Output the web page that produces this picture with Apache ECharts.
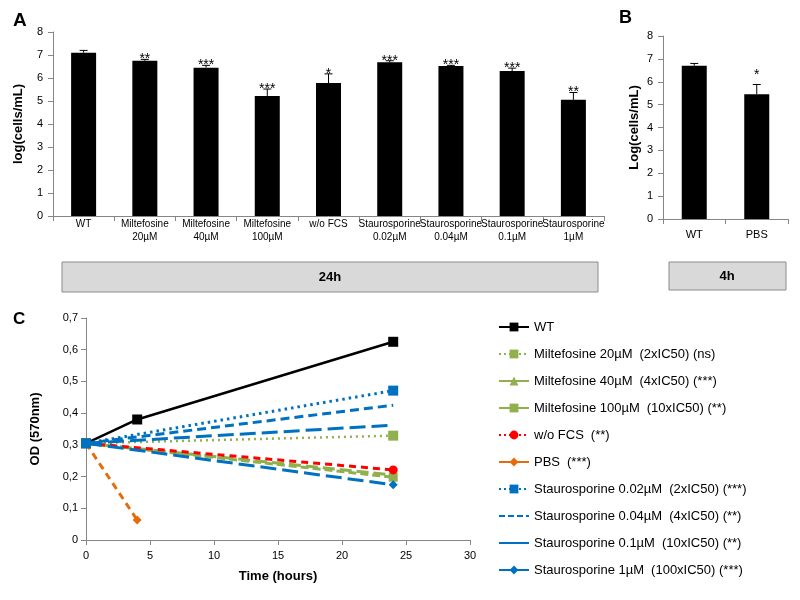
<!DOCTYPE html>
<html><head><meta charset="utf-8">
<script src="https://cdn.jsdelivr.net/npm/echarts/dist/echarts.min.js"></script>
<style>html,body{margin:0;padding:0;background:#fff}#c{width:800px;height:600px}</style>
</head><body><div id="c"></div><script>
// ---- Panel A data ----
const catsA = ['WT','Miltefosine\n20µM','Miltefosine\n40µM','Miltefosine\n100µM','w/o FCS','Staurosporine\n0.02µM','Staurosporine\n0.04µM','Staurosporine\n0.1µM','Staurosporine\n1µM'];
const valsA = [7.1, 6.75, 6.45, 5.22, 5.78, 6.68, 6.52, 6.3, 5.05];
const errA  = [0.1, 0.06, 0.1, 0.3, 0.4, 0.07, 0.03, 0.13, 0.32];
const sigA  = ['', '**', '***', '***', '*', '***', '***', '***', '**'];
// ---- Panel B data ----
const catsB = ['WT','PBS'];
const valsB = [6.7, 5.45];
const errB  = [0.1, 0.43];
const sigB  = ['', '*'];
// ---- Panel C data (time in hours, OD 570nm) ----
const cWT       = [[0,0.305],[4,0.38],[24,0.625]];
const cMilt20   = [[0,0.305],[24,0.329]];
const cMilt40   = [[0,0.305],[24,0.205]];
const cMilt100  = [[0,0.305],[24,0.198]];
const cWoFCS    = [[0,0.305],[24,0.221]];
const cPBS      = [[0,0.305],[4,0.063]];
const cSt002    = [[0,0.305],[24,0.471]];
const cSt004    = [[0,0.305],[24,0.425]];
const cSt01     = [[0,0.305],[24,0.362]];
const cSt1      = [[0,0.305],[24,0.174]];
const namesC  = ['WT','Miltefosine 20µM','Miltefosine 40µM','Miltefosine 100µM','w/o FCS','PBS','Staurosporine 0.02µM','Staurosporine 0.04µM','Staurosporine 0.1µM','Staurosporine 1µM'];
const suffixC = ['', '(2xIC50) (ns)', '(4xIC50) (***)', '(10xIC50) (**)', '(**)', '(***)', '(2xIC50) (***)', '(4xIC50) (**)', '(10xIC50) (**)', '(100xIC50) (***)'];

const SANS = '"Liberation Sans", Arial, sans-serif';
const AX = '#868686';

function errRender(sigs, starOffset) {
  return function (params, api) {
    const i = params.dataIndex;
    const v = api.value(1), e = api.value(2);
    const p0 = api.coord([api.value(0), v]);
    const p1 = api.coord([api.value(0), v + e]);
    const ch = [
      {type:'line', shape:{x1:p0[0], y1:p0[1], x2:p1[0], y2:p1[1]}, style:{stroke:'#000', lineWidth:1}},
      {type:'line', shape:{x1:p1[0]-4, y1:p1[1], x2:p1[0]+4, y2:p1[1]}, style:{stroke:'#000', lineWidth:1}}
    ];
    if (sigs[i]) ch.push({type:'text', style:{text:sigs[i], x:p1[0], y:p1[1]+starOffset, align:'center', verticalAlign:'top', fontSize:14, fontFamily:SANS, fill:'#000'}});
    return {type:'group', children:ch};
  };
}

function valAxisBar(gi, name, gap) {
  return {type:'value', gridIndex:gi, min:0, max:8, interval:1, name:name, nameLocation:'middle', nameGap:gap,
    nameTextStyle:{fontFamily:SANS, fontWeight:'bold', fontSize:13, color:'#000'},
    axisLine:{show:true, lineStyle:{color:AX}}, axisTick:{show:true, length:5, lineStyle:{color:AX}},
    axisLabel:{fontFamily:SANS, fontSize:11, color:'#000', margin:10}, splitLine:{show:false}};
}

const lineDefs = [
  {data:cWT, color:'#000000', type:'solid', width:2.5, symbol:'rect', size:10},
  {data:cMilt20, color:'#8fb04d', type:[2,4], width:2.5, symbol:'rect', size:10},
  {data:cMilt40, color:'#8fb04d', type:[12,5], width:3, symbol:'triangle', size:8},
  {data:cMilt100, color:'#8fb04d', type:[8,4], width:3, symbol:'rect', size:9},
  {data:cWoFCS, color:'#ff0000', type:[7,5], width:3, symbol:'circle', size:9},
  {data:cPBS, color:'#e46c0a', type:[7,5], width:3, symbol:'diamond', size:9},
  {data:cSt002, color:'#0070c0', type:[2.5,4], width:3, symbol:'rect', size:10},
  {data:cSt004, color:'#0070c0', type:[9,5], width:3, symbol:'none', size:0},
  {data:cSt01, color:'#0070c0', type:[16,6], width:3, symbol:'none', size:0},
  {data:cSt1, color:'#0070c0', type:[16,6], width:3, symbol:'diamond', size:9}
];
const legendLineType = ['solid', [2,3], 'solid', 'solid', [2,3], 'solid', [2,3], [6,3], 'solid', 'solid'];

const seriesC = lineDefs.map((d, i) => ({
  type:'line', name:namesC[i], xAxisIndex:2, yAxisIndex:2, data:d.data,
  symbol:d.symbol, symbolSize:d.size, showSymbol:d.symbol !== 'none',
  lineStyle:{color:d.color, width:d.width, type:d.type}, itemStyle:{color:d.color},
  animation:false, z:2+i
}));

const option = {
  animation:false,
  grid:[
    {left:53, top:32, width:551, height:184},
    {left:663, top:36, width:125, height:183},
    {left:86, top:318, width:384, height:222}
  ],
  xAxis:[
    {type:'category', gridIndex:0, data:catsA, axisLine:{lineStyle:{color:AX}},
      axisTick:{show:true, length:5, alignWithLabel:false, lineStyle:{color:AX}},
      axisLabel:{interval:0, fontFamily:SANS, fontSize:10, color:'#000', lineHeight:13, margin:2}},
    {type:'category', gridIndex:1, data:catsB, axisLine:{lineStyle:{color:AX}},
      axisTick:{show:true, length:5, lineStyle:{color:AX}},
      axisLabel:{interval:0, fontFamily:SANS, fontSize:11, color:'#000', margin:10}},
    {type:'value', gridIndex:2, min:0, max:30, interval:5, name:'Time (hours)', nameLocation:'middle', nameGap:30,
      nameTextStyle:{fontFamily:SANS, fontWeight:'bold', fontSize:13, color:'#000'},
      axisLine:{show:true, lineStyle:{color:AX}}, axisTick:{show:true, length:5, lineStyle:{color:AX}},
      axisLabel:{fontFamily:SANS, fontSize:11, color:'#000', margin:10}, splitLine:{show:false}}
  ],
  yAxis:[
    valAxisBar(0, 'log(cells/mL)', 28),
    valAxisBar(1, 'Log(cells/mL)', 22),
    {type:'value', gridIndex:2, min:0, max:0.7, interval:0.1, name:'OD (570nm)', nameLocation:'middle', nameGap:44,
      nameTextStyle:{fontFamily:SANS, fontWeight:'bold', fontSize:13, color:'#000'},
      axisLine:{show:true, lineStyle:{color:AX}}, axisTick:{show:true, length:5, lineStyle:{color:AX}},
      axisLabel:{fontFamily:SANS, fontSize:11, color:'#000', margin:8,
        formatter:v => v === 0 ? '0' : v.toFixed(1).replace('.', ',')}, splitLine:{show:false}}
  ],
  legend:{
    orient:'vertical', left:493, top:315, itemWidth:30, itemHeight:11, itemGap:13,
    data:namesC.map((n, i) => {
      const item = {name:n, lineStyle:{type:legendLineType[i]}};
      if (lineDefs[i].symbol === 'none') item.itemStyle = {opacity:0};
      return item;
    }),
    formatter:name => { const s = suffixC[namesC.indexOf(name)]; return '{a|' + name + '}' + (s ? '{b|' + s + '}' : ''); },
    textStyle:{fontFamily:SANS, fontSize:13, color:'#000', lineHeight:14,
      rich:{a:{fontFamily:SANS, fontSize:13, color:'#000', lineHeight:14}, b:{fontFamily:SANS, fontSize:13, color:'#000', lineHeight:14, padding:[0,0,0,7]}}}
  },
  series:[
    {type:'bar', xAxisIndex:0, yAxisIndex:0, data:valsA, barWidth:25, itemStyle:{color:'#000'}},
    {type:'custom', xAxisIndex:0, yAxisIndex:0, data:valsA.map((v, i) => [i, v, errA[i]]),
      encode:{x:0, y:1}, renderItem:errRender(sigA, -7), z:3},
    {type:'bar', xAxisIndex:1, yAxisIndex:1, data:valsB, barWidth:25, itemStyle:{color:'#000'}},
    {type:'custom', xAxisIndex:1, yAxisIndex:1, data:valsB.map((v, i) => [i, v, errB[i]]),
      encode:{x:0, y:1}, renderItem:errRender(sigB, -16), z:3}
  ].concat(seriesC),
  graphic:[
    {type:'text', left:13, top:11, style:{text:'A', font:'bold 19px ' + SANS, fill:'#000'}},
    {type:'text', left:619, top:9, style:{text:'B', font:'bold 18px ' + SANS, fill:'#000'}},
    {type:'text', left:13, top:311, style:{text:'C', font:'bold 17px ' + SANS, fill:'#000'}},
    {type:'rect', shape:{x:62, y:262, width:536, height:30}, style:{fill:'#d9d9d9', stroke:'#8c8c8c', lineWidth:1}},
    {type:'text', x:330, y:277, style:{text:'24h', font:'bold 13px ' + SANS, fill:'#000', align:'center', verticalAlign:'middle'}},
    {type:'rect', shape:{x:669, y:262, width:117, height:28}, style:{fill:'#d9d9d9', stroke:'#8c8c8c', lineWidth:1}},
    {type:'text', x:727, y:276, style:{text:'4h', font:'bold 13px ' + SANS, fill:'#000', align:'center', verticalAlign:'middle'}}
  ]
};
const chart = echarts.init(document.getElementById('c'));
chart.setOption(option);
</script></body></html>
